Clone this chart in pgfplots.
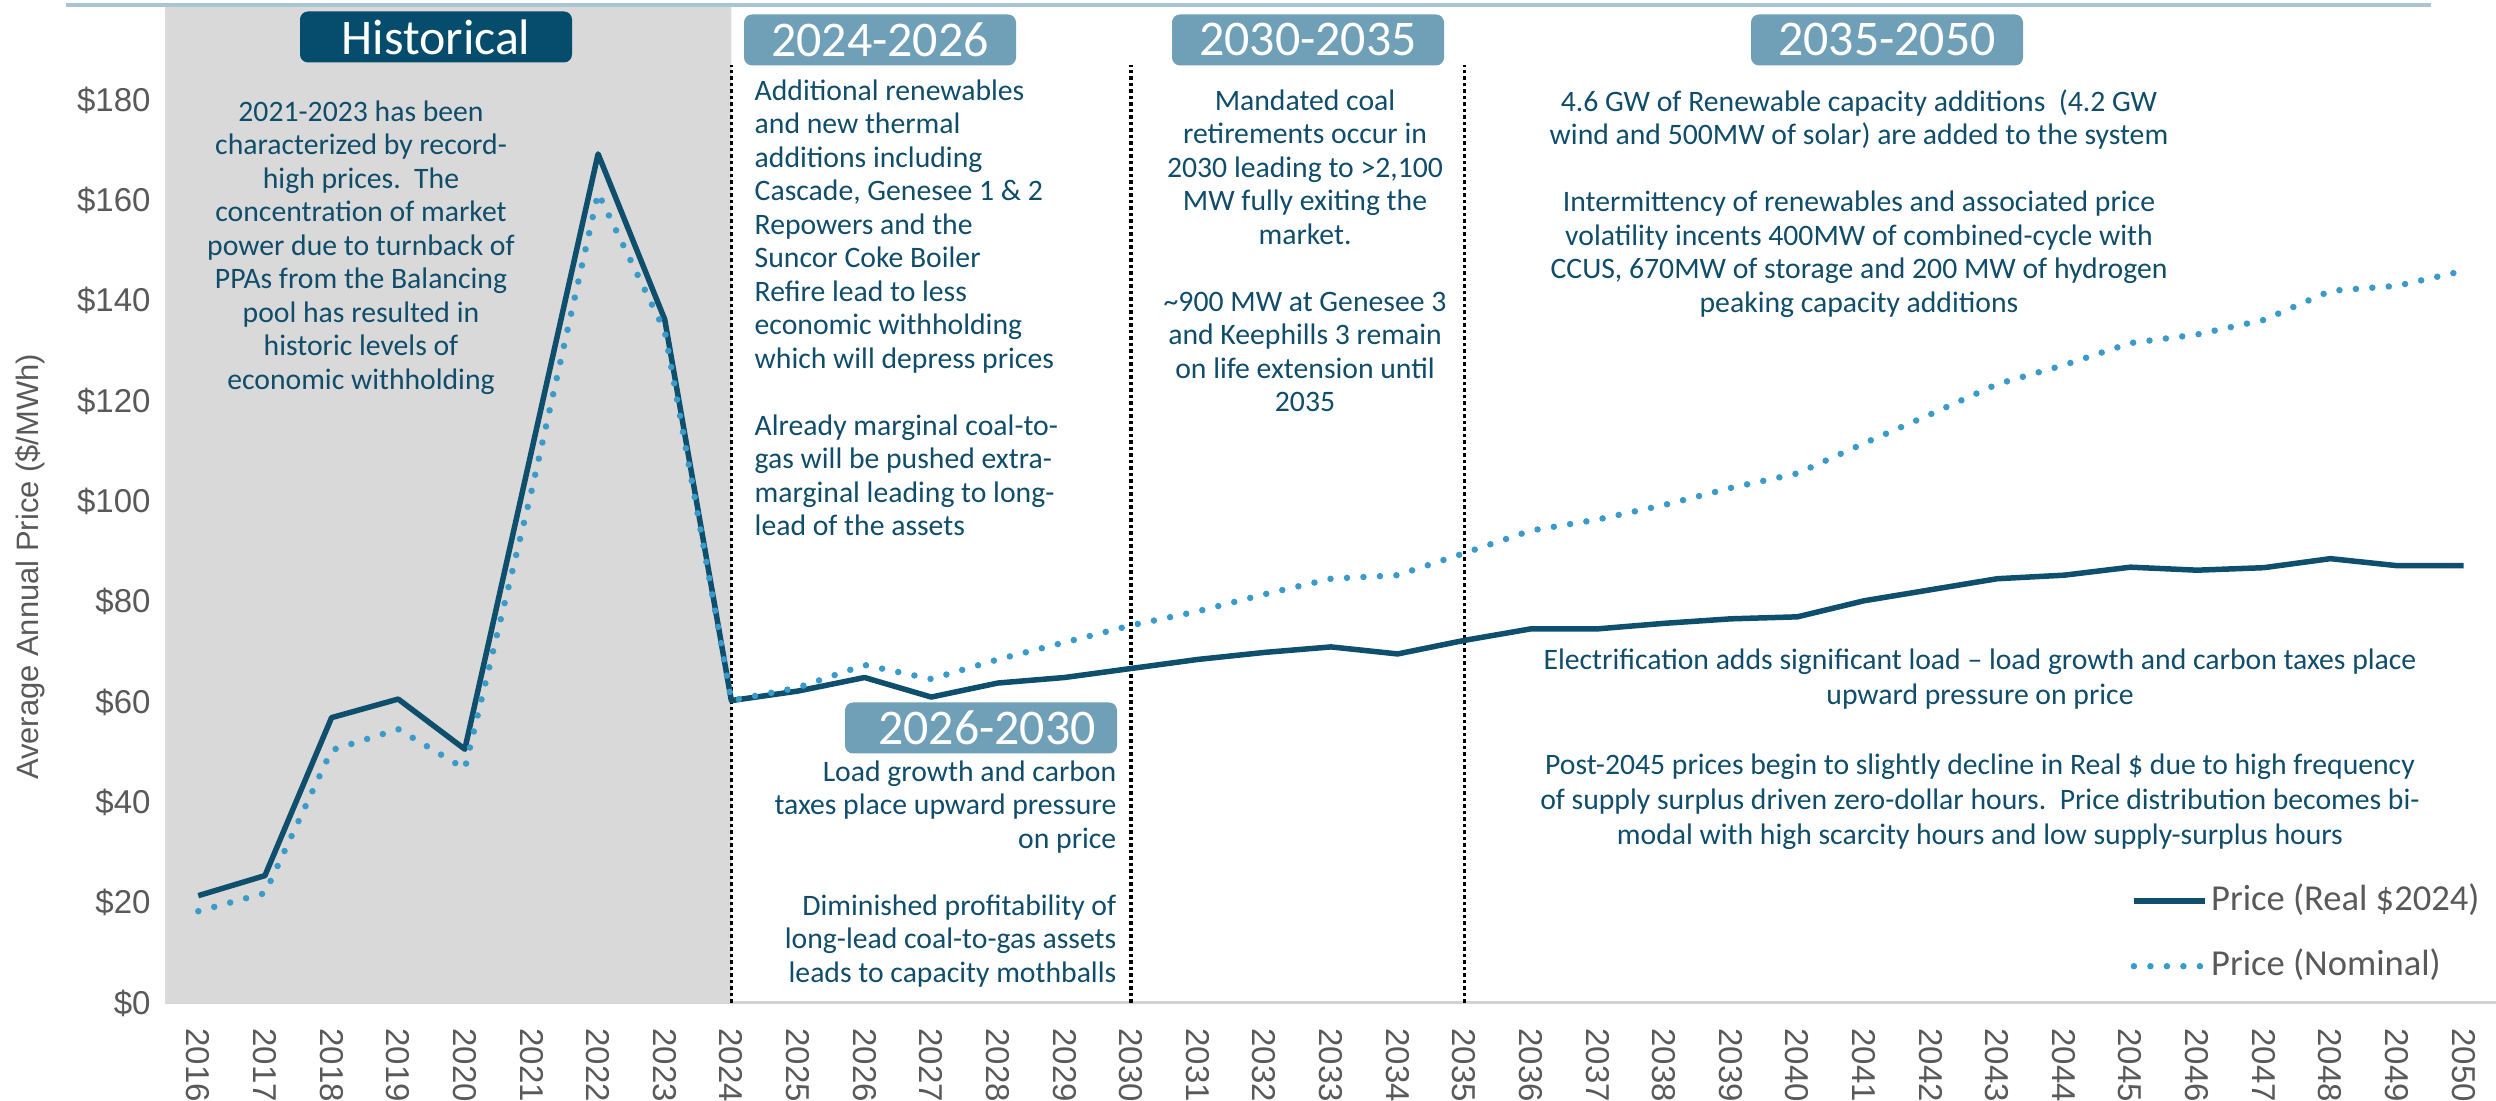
\documentclass[border=0pt]{standalone}
\usepackage{fontspec}
\usepackage{pgfplots}
\pgfplotsset{compat=1.18}
\setmainfont{Carlito}
\newfontfamily\arialf{Liberation Sans}
\definecolor{realc}{HTML}{0E4F6D}
\definecolor{nomc}{HTML}{3A9BCB}
\definecolor{histbox}{HTML}{064C6C}
\definecolor{perbox}{HTML}{6FA0B7}
\definecolor{txtc}{HTML}{0F4D6B}
\definecolor{shade}{HTML}{D9D9D9}
\definecolor{axgray}{HTML}{D3D3D3}
\definecolor{tickgray}{HTML}{595959}
\definecolor{topline}{HTML}{A9C5D4}
\newcommand\bodyfont{\fontsize{8.45}{9.53}\selectfont}
\newcommand\headfont{\fontsize{14.2}{16}\selectfont}
\tikzset{
  head/.style={rounded corners=0.08cm, text=white, font=\headfont, inner sep=0pt,
    minimum width=2.72cm, minimum height=0.51cm},
  note/.style={text=txtc, font=\bodyfont, inner sep=0pt},
  nomline/.style={nomc, line width=0.065cm, line cap=round, dash pattern=on 0pt off 0.165cm},
  sep/.style={black, line width=0.035cm, dash pattern=on 0.035cm off 0.03cm},
}
\begin{document}
\begin{tikzpicture}
\path[use as bounding box] (0,0) rectangle (24.96,11.01);
\begin{axis}[
  at={(1.65cm,0.98cm)}, anchor=south west,
  scale only axis, width=23.32cm, height=10.03cm,
  xmin=2015.5, xmax=2050.5, ymin=0, ymax=200,
  clip=false,
  axis x line=bottom, axis y line=left,
  x axis line style={-, draw=axgray, line width=0.03cm},
  y axis line style={draw=none},
  xtick={2016,2017,...,2050}, ytick={0,20,...,180},
  major tick length=0pt,
  /pgf/number format/assume math mode=true,
  /pgf/number format/1000 sep={},
  tick label style={font=\arialf\fontsize{9.4}{11}\selectfont, text=tickgray},
  xticklabel style={yshift=-0.13cm, rotate=-90, anchor=west},
  yticklabel style={xshift=-0.02cm, anchor=east},
  yticklabel={\$\pgfmathprintnumber{\tick}},
  legend style={draw=none, fill=none, at={(rel axis cs:0.8426,0.1226)}, anchor=north west,
    font=\fontsize{10.4}{12}\selectfont, text=tickgray, inner sep=0pt, row sep=0.24cm,
    nodes={inner sep=0.03cm, text height=0.27cm, text depth=0.08cm}},
  legend cell align=left,
  legend image code/.code={\draw[#1] (0cm,0cm) -- (0.71cm,0cm);},
]
% shaded historical period
\addplot[draw=none, fill=shade, forget plot] coordinates {(2015.5,0) (2015.5,198.6) (2024,198.6) (2024,0)} \closedcycle;
% period separators
\addplot[sep, forget plot] coordinates {(2024,0) (2024,187)};
\addplot[sep, forget plot] coordinates {(2030,0) (2030,187)};
\addplot[sep, forget plot] coordinates {(2035,0) (2035,187)};
\addplot[realc, line width=0.055cm, line join=round] coordinates {
(2016,21.4) (2017,25.4) (2018,56.9) (2019,60.6) (2020,50.6) (2021,110) (2022,169.3)
(2023,136.3) (2024,60.3) (2025,62.2) (2026,64.9) (2027,61.0) (2028,63.8) (2029,64.9)
(2030,66.7) (2031,68.5) (2032,69.9) (2033,71.0) (2034,69.6) (2035,72.3) (2036,74.6)
(2037,74.6) (2038,75.7) (2039,76.6) (2040,77.0) (2041,80.2) (2042,82.4) (2043,84.6)
(2044,85.3) (2045,86.9) (2046,86.3) (2047,86.8) (2048,88.6) (2049,87.2) (2050,87.2)};
\addlegendentry{Price (Real \$2024)}
\addplot[nomline] coordinates {
(2016,18.3) (2017,21.9) (2018,50.4) (2019,54.6) (2020,46.7) (2021,102) (2022,161.5)
(2023,134) (2024,60.3) (2025,62.9) (2026,67.4) (2027,64.6) (2028,68.5) (2029,71.9)
(2030,75.3) (2031,78.1) (2032,81.5) (2033,84.6) (2034,85.3) (2035,89.7) (2036,94.2)
(2037,96.4) (2038,99.3) (2039,102.7) (2040,105.6) (2041,111.6) (2042,117.4) (2043,123.4)
(2044,127.2) (2045,131.6) (2046,133.3) (2047,136.2) (2048,142.0) (2049,143.0) (2050,146.0)};
\addlegendentry{Price (Nominal)}
\end{axis}
% decorative top rule
\draw[topline, line width=0.04cm] (0.66,10.96) -- (24.31,10.96);
% y axis title
\node[rotate=90, font=\arialf\fontsize{8.8}{10}\selectfont, text=tickgray] at (0.30,5.34) {Average Annual Price (\$/MWh)};
% period headers
\node[head, fill=histbox] at (4.36,10.64) {Historical};
\node[head, fill=perbox] at (8.80,10.61) {2024-2026};
\node[head, fill=perbox] at (13.08,10.61) {2030-2035};
\node[head, fill=perbox] at (18.87,10.61) {2035-2050};
\node[head, fill=perbox] at (9.81,3.73) {\hspace*{0.12cm}2026-2030};
% notes
\node[note, align=center, anchor=north] at (3.61,10.01) {2021-2023 has been\\characterized by record-\\high prices.\ \ The\\concentration of market\\power due to turnback of\\PPAs from the Balancing\\pool has resulted in\\historic levels of\\economic withholding};
\node[note, align=left, anchor=north west] at (7.54,10.22) {Additional renewables\\and new thermal\\additions including\\Cascade, Genesee 1 \& 2\\Repowers and the\\Suncor Coke Boiler\\Refire lead to less\\economic withholding\\which will depress prices\\[9.53pt]Already marginal coal-to-\\gas will be pushed extra-\\marginal leading to long-\\lead of the assets};
\node[note, align=right, anchor=north east] at (11.17,3.41) {Load growth and carbon\\taxes place upward pressure\\on price\\[9.53pt]Diminished profitability of\\long-lead coal-to-gas assets\\leads to capacity mothballs};
\node[note, align=center, anchor=north] at (13.05,10.12) {Mandated coal\\retirements occur in\\2030 leading to >2,100\\MW fully exiting the\\market.\\[9.53pt]\textasciitilde900 MW at Genesee 3\\and Keephills 3 remain\\on life extension until\\2035};
\node[note, align=center, anchor=north] at (18.59,10.12) {4.6 GW of Renewable capacity additions\ \ (4.2 GW\\wind and 500MW of solar) are added to the system\\[9.53pt]Intermittency of renewables and associated price\\volatility incents 400MW of combined-cycle with\\CCUS, 670MW of storage and 200 MW of hydrogen\\peaking capacity additions};
\node[note, align=center, anchor=north, font=\fontsize{8.45}{9.96}\selectfont] at (19.80,4.53) {Electrification adds significant load – load growth and carbon taxes place\\upward pressure on price\\[9.96pt]Post-2045 prices begin to slightly decline in Real \$ due to high frequency\\of supply surplus driven zero-dollar hours.\ \ Price distribution becomes bi-\\modal with high scarcity hours and low supply-surplus hours};
\end{tikzpicture}
\end{document}
